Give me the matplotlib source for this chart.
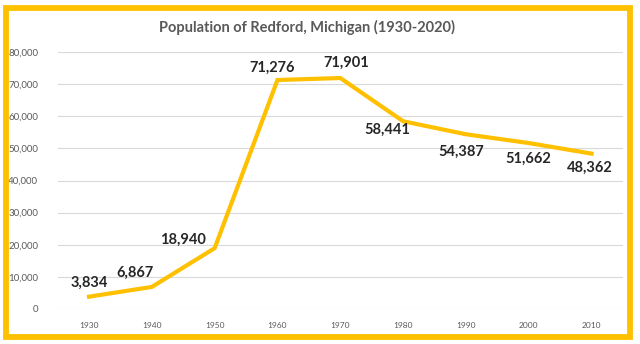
import matplotlib.pyplot as plt
from matplotlib.patches import Rectangle
from matplotlib.ticker import FuncFormatter

years = [1930, 1940, 1950, 1960, 1970, 1980, 1990, 2000, 2010]
population = [3834, 6867, 18940, 71276, 71901, 58441, 54387, 51662, 48362]
y_ticks = [0, 10000, 20000, 30000, 40000, 50000, 60000, 70000, 80000]
title = "Population of Redford, Michigan (1930-2020)"

# label offsets in pixels (dx, dy) relative to each point
label_offsets = [(0, 14), (-17, 14), (-32, 8), (-5, 12), (6, 15),
                 (-16, -9), (-5, -18), (-1, -16), (-2, -14)]

plt.rcParams['font.family'] = ['Lato', 'DejaVu Sans']

gold = '#FFC000'
grey_text = '#595959'

fig = plt.figure(figsize=(6.4, 3.44), dpi=100)
fig.patch.set_facecolor('white')
ax = fig.add_axes([57.6 / 640, 1 - 309 / 344, (623 - 57.6) / 640, (309 - 52) / 344])

xs = list(range(len(years)))
ax.plot(xs, population, color=gold, lw=3.0, solid_joinstyle='miter', zorder=3)

for x, v, (dx, dy) in zip(xs, population, label_offsets):
    ax.annotate(f"{v:,}", (x, v), xytext=(dx, dy), textcoords='offset pixels',
                ha='center', va='center', fontsize=10.5, fontweight='bold',
                color='#262626', zorder=4)

ax.set_xlim(-0.5, len(years) - 0.5)
ax.set_ylim(0, 80000)
ax.set_xticks(xs)
ax.set_xticklabels([str(y) for y in years], fontsize=6, color=grey_text)
ax.set_yticks(y_ticks)
ax.yaxis.set_major_formatter(FuncFormatter(lambda v, p: f"{int(v):,}"))
ax.tick_params(axis='y', labelsize=7, colors=grey_text, length=0, pad=14)
ax.tick_params(axis='x', length=0, pad=9)
ax.grid(axis='y', color='#D9D9D9', lw=0.8)
ax.set_axisbelow(True)
for s in ax.spines.values():
    s.set_visible(False)

fig.text(307 / 640, 1 - 27 / 344, title, ha='center', va='center',
         fontsize=10.5, color=grey_text, fontweight='bold')

border = Rectangle((5.5 / 640, 1 - 336.5 / 344), (630 - 5.5) / 640, (336.5 - 8) / 344,
                   transform=fig.transFigure, fill=False, edgecolor=gold, lw=4.2,
                   joinstyle='miter')
fig.patches.append(border)

fig.savefig('out.png', dpi=100)
